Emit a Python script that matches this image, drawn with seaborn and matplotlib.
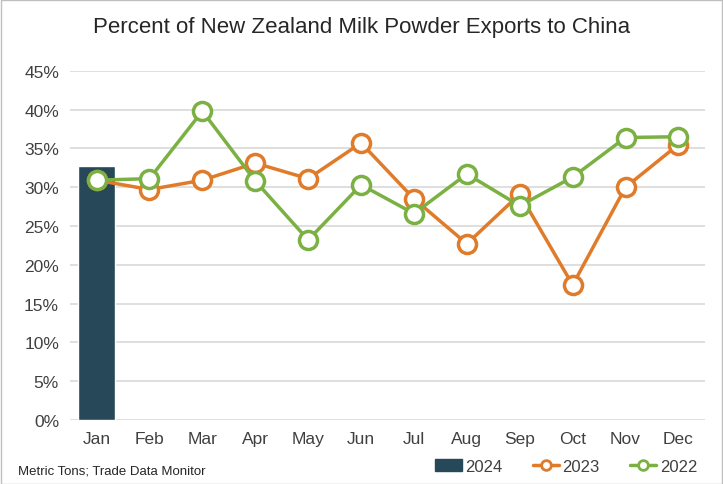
import matplotlib
matplotlib.use("Agg")
import matplotlib.pyplot as plt
import seaborn as sns
import pandas as pd
import numpy as np
from matplotlib.ticker import PercentFormatter
from matplotlib.patches import Rectangle
from matplotlib.lines import Line2D

months = ["Jan", "Feb", "Mar", "Apr", "May", "Jun", "Jul", "Aug", "Sep", "Oct", "Nov", "Dec"]
share_2024 = [32.7]
share_2023 = [30.9, 29.7, 30.9, 33.1, 31.1, 35.7, 28.5, 22.7, 29.1, 17.4, 30.0, 35.5]
share_2022 = [30.9, 31.1, 39.8, 30.8, 23.2, 30.3, 26.6, 31.7, 27.6, 31.3, 36.4, 36.5]

sns.set_theme(style="white")
plt.rcParams['font.family'] = ['Liberation Sans Narrow', 'Liberation Sans', 'DejaVu Sans']

fig, ax = plt.subplots(figsize=(7.23, 4.85), dpi=100)
fig.subplots_adjust(left=0.097, right=0.975, top=0.852, bottom=0.132)

bar_df = pd.DataFrame({"month": months[:1], "share": share_2024})
sns.barplot(data=bar_df, x="month", y="share", order=months, color="#264858",
            width=0.7, saturation=1, ax=ax, zorder=2)

line_df = pd.DataFrame({"month": months, "2023": share_2023, "2022": share_2022})
for col, c in [("2023", "#E07B2A"), ("2022", "#7BB043")]:
    ax.plot(np.arange(len(months)), line_df[col], color=c, lw=2.5, marker="o",
            ms=13, mfc="white", mec=c, mew=2.5, zorder=3)

ax.set_ylim(0, 45)
ax.set_xlim(-0.5, 11.5)
ax.set_yticks(np.arange(0, 46, 5))
ax.yaxis.set_major_formatter(PercentFormatter(decimals=0))
ax.yaxis.grid(True, color="#D9D9D9", lw=1.2)
ax.set_axisbelow(True)
for s in ax.spines.values():
    s.set_visible(False)
ax.tick_params(axis="both", labelsize=12.5, colors="#404040", length=0, pad=8)
ax.set_xlabel("")
ax.set_ylabel("")

fig.suptitle("Percent of New Zealand Milk Powder Exports to China", y=0.965,
             fontsize=16, color="#262626")
fig.text(0.025, 0.022, "Metric Tons; Trade Data Monitor", fontsize=9.5, color="#262626")

handles = [Rectangle((0, 0), 1, 1, color="#264858"),
           Line2D([], [], color="#E07B2A", lw=2.5, marker="o", ms=7, mfc="white", mew=2),
           Line2D([], [], color="#7BB043", lw=2.5, marker="o", ms=7, mfc="white", mew=2)]
fig.legend(handles, ["2024", "2023", "2022"], loc="lower right", ncol=3, frameon=False,
           fontsize=12, bbox_to_anchor=(0.985, -0.01), handlelength=1.6, columnspacing=1.8,
           handletextpad=0.2, labelcolor="#404040")

fig.add_artist(Rectangle((0.001, 0.001), 0.997, 0.997, transform=fig.transFigure,
                         fill=False, ec="#BFBFBF", lw=1))

fig.savefig("out.png", dpi=100)
